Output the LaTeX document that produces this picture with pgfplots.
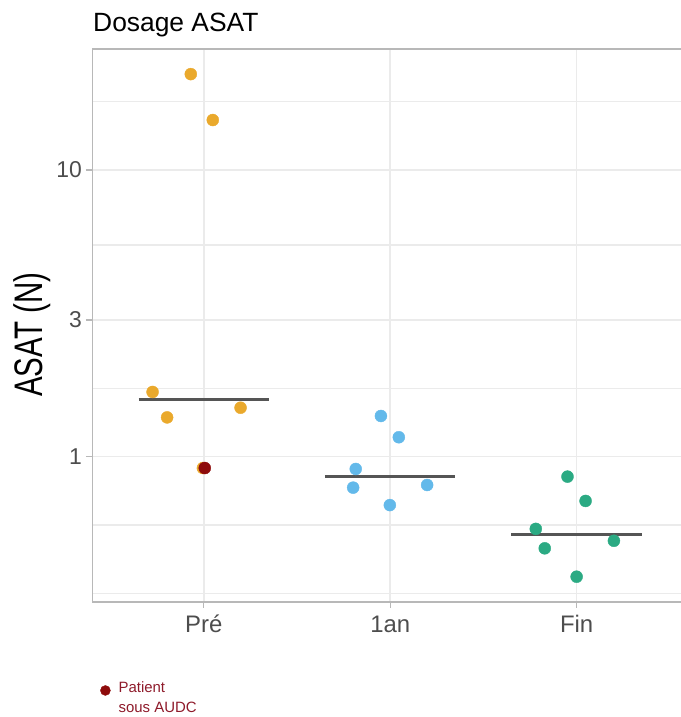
\documentclass[border=0pt]{standalone}
\usepackage{pgfplots}
\pgfplotsset{compat=1.18}
\usepackage{fontspec}
\setmainfont{Liberation Sans}
\definecolor{cpre}{HTML}{EAA92C}
\definecolor{cun}{HTML}{63B9EA}
\definecolor{cfin}{HTML}{2BAA83}
\definecolor{cred}{HTML}{8E0B0B}
\definecolor{legtxt}{HTML}{8E1A2A}
\definecolor{gridc}{HTML}{EBEBEB}
\definecolor{bordc}{HTML}{B8B8B8}
\definecolor{labc}{HTML}{4D4D4D}
\definecolor{medc}{HTML}{555555}
\begin{document}
\begin{tikzpicture}
\useasboundingbox (-92bp,-115bp) rectangle (589bp,602bp);
\begin{axis}[
  at={(0,0)}, anchor=south west,
  scale only axis, width=589bp, height=553bp,
  xmin=0.4, xmax=3.56,
  ymode=log, ymin=0.3113, ymax=26.43,
  xtick={1,2,3}, xticklabels={Pré,1an,Fin},
  ytick={1,3,10}, yticklabels={1,3,10},
  minor ytick={0.3333,0.5774,1.732,5.477,17.32},
  xmajorgrids, ymajorgrids, yminorgrids,
  major grid style={color=gridc, line width=1.5bp},
  minor grid style={color=gridc, line width=1.5bp},
  tick align=outside, tick pos=left,
  major tick length=6bp, minor tick length=0pt,
  tick style={color=bordc, line width=1.2bp},
  axis line style={draw=none},
  /pgf/number format/assume math mode=true,
  xticklabel style={font=\fontsize{24}{24}\selectfont, text=labc, anchor=base, yshift=-25bp},
  yticklabel style={font=\fontsize{23}{23}\selectfont, text=labc, anchor=east, inner sep=0pt, xshift=-4bp},
  legend style={draw=none, fill=none, inner sep=0pt, at={(0.0136,-0.136)}, anchor=north west,
    nodes={inner sep=0pt, text=legtxt, font=\fontsize{15}{21}\selectfont}, column sep=8bp},
  legend cell align=left,
]
\draw[bordc, line width=1.6bp] (rel axis cs:1,1) -- (rel axis cs:0,1) -- (rel axis cs:0,0) -- (rel axis cs:1,0);
% medians
\addplot[forget plot, medc, line width=3bp] coordinates {(0.65,1.58) (1.35,1.58)};
\addplot[forget plot, medc, line width=3bp] coordinates {(1.65,0.856) (2.35,0.856)};
\addplot[forget plot, medc, line width=3bp] coordinates {(2.65,0.535) (3.35,0.535)};
% points
\addplot[forget plot, only marks, mark=*, mark size=6bp, mark options={draw=cpre, fill=cpre}] coordinates {
(0.930,21.6) (1.048,14.94) (0.725,1.682) (0.803,1.371) (1.197,1.482) (0.995,0.913)};
\addplot[forget plot, only marks, mark=*, mark size=6bp, mark options={draw=cun, fill=cun}] coordinates {
(1.950,1.387) (2.046,1.169) (1.815,0.906) (1.801,0.780) (2.198,0.797) (1.998,0.678)};
\addplot[forget plot, only marks, mark=*, mark size=6bp, mark options={draw=cfin, fill=cfin}] coordinates {
(2.951,0.852) (3.048,0.701) (2.781,0.560) (2.829,0.479) (3.200,0.509) (3.000,0.3815)};
\addplot[only marks, mark=*, mark size=6bp, mark options={draw=cred, fill=cred},
  legend image code/.code={\fill[cred] (5bp,-5bp) circle (5bp);}] coordinates {(1.005,0.913)};
\addlegendentry{\begin{tabular}[t]{@{}l@{}}Patient\\sous AUDC\end{tabular}}
\end{axis}
\node[anchor=base west, inner sep=0pt, font=\fontsize{26.5}{26.5}\selectfont] at (1bp,570bp) {Dosage ASAT};
\node[rotate=90, anchor=base west, inner sep=0pt] at (-49bp,205bp) {\scalebox{0.74}[1]{\fontsize{40}{40}\selectfont ASAT (N)}};
\end{tikzpicture}
\end{document}
